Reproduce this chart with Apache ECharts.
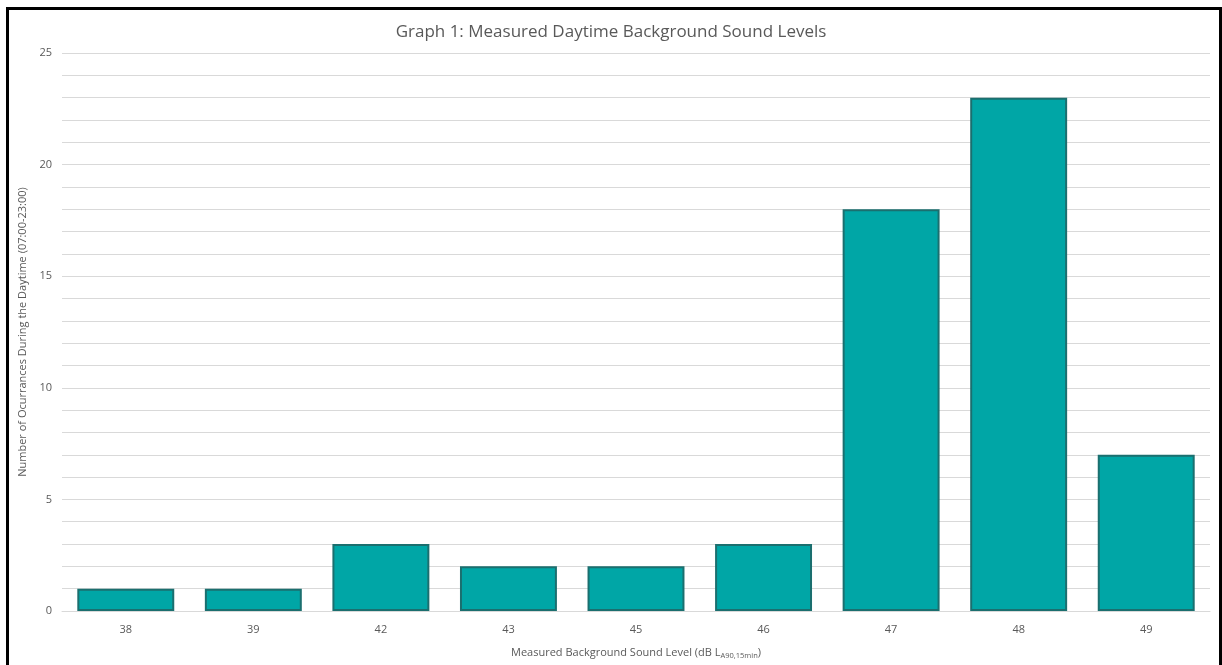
<!DOCTYPE html>
<html><head><meta charset="utf-8">
<script src="https://cdn.jsdelivr.net/npm/echarts@6/dist/echarts.min.js"></script>
<style>
html,body{margin:0;padding:0;background:#fff;overflow:hidden;}
#c{position:absolute;left:0;top:0;width:1222px;height:665px;}
#frame{position:absolute;left:6px;top:7px;width:1210px;height:700px;border:3px solid #000;pointer-events:none;}
</style></head>
<body>
<div id="c"></div>
<div id="frame"></div>
<script>
const categories = ['38','39','42','43','45','46','47','48','49'];
const occurrences = [1,1,3,2,2,3,18,23,7];
const titleText = 'Graph 1: Measured Daytime Background Sound Levels';
const yAxisTitle = 'Number of Ocurrances During the Daytime (07:00-23:00)';
const FONT = '"Open Sans", "Noto Sans", sans-serif';
const chart = echarts.init(document.getElementById('c'));
chart.setOption({
  animation:false,
  title:{text:titleText,left:'center',top:19,textStyle:{fontFamily:FONT,fontSize:17,fontWeight:'normal',color:'#595959'}},
  grid:{left:62,right:12,top:53,bottom:54},
  xAxis:{type:'category',data:categories,
    axisLine:{lineStyle:{color:'#d9d9d9'}},axisTick:{show:false},
    axisLabel:{fontFamily:FONT,fontSize:11,color:'#595959',margin:13},
    name:'Measured Background Sound Level (dB L{sub|A90,15min})',nameLocation:'middle',nameGap:35,
    nameTextStyle:{fontFamily:FONT,fontSize:11,color:'#595959',
      rich:{sub:{fontFamily:FONT,fontSize:7.5,color:'#595959',padding:[6,0,0,0]}}}},
  yAxis:{type:'value',min:0,max:25,interval:1,
    axisLine:{show:false},axisTick:{show:false},
    splitLine:{lineStyle:{color:'#d9d9d9',width:1}},
    axisLabel:{fontFamily:FONT,fontSize:11,color:'#595959',margin:10,
      formatter:v=> (v%5===0? String(v):'')},
    name:yAxisTitle,nameLocation:'middle',nameGap:33,nameRotate:90,
    nameTextStyle:{fontFamily:FONT,fontSize:11,color:'#595959'}},
  series:[{type:'bar',data:occurrences,barCategoryGap:'24%',
    itemStyle:{color:'#00a6a6',borderColor:'#1b6f6f',borderWidth:2}}]
});
</script>
</body></html>
